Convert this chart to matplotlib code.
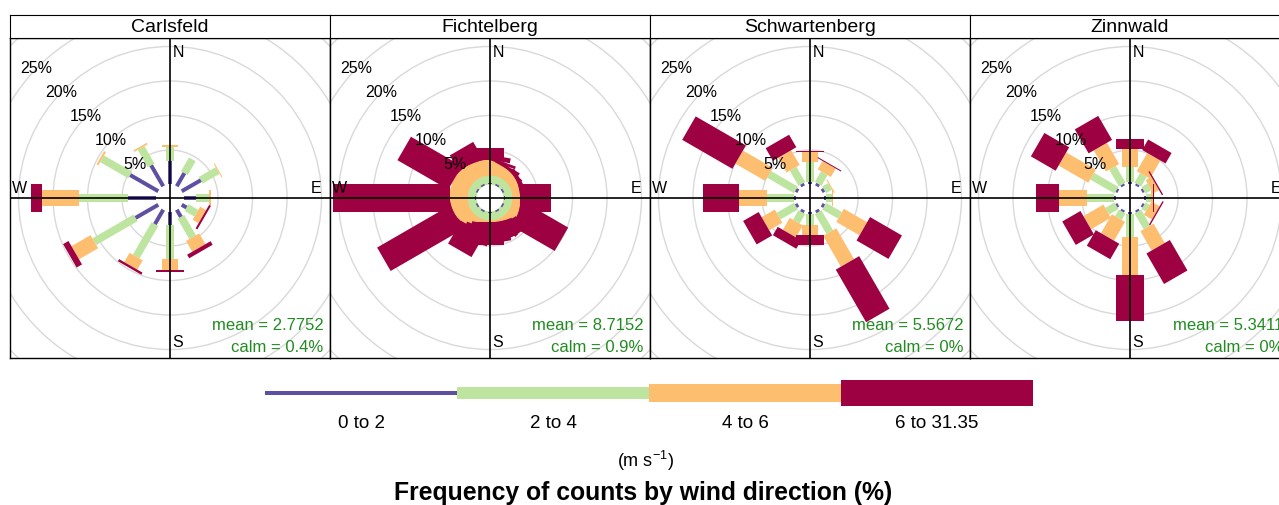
import numpy as np
import matplotlib.pyplot as plt
from matplotlib.patches import Polygon, Circle, Rectangle

plt.rcParams['font.family'] = ['Liberation Sans', 'DejaVu Sans']
plt.rcParams['mathtext.default'] = 'regular'

# ---- data (percent of counts per direction and speed class) ----
sites = ['Carlsfeld', 'Fichtelberg', 'Schwartenberg', 'Zinnwald']
wd = [0, 30, 60, 90, 120, 150, 180, 210, 240, 270, 300, 330]
wd_fine = list(range(0, 360, 10))   # Fichtelberg has 10 degree data
speed_labels = ['0 to 2', '2 to 4', '4 to 6', '6 to 31.35']
means = ['2.7752', '8.7152', '5.5672', '5.3411']
calms = ['0.4%', '0.9%', '0%', '0%']

carlsfeld_0_2 = [3.4, 2.2, 3.2, 1.8, 0.8, 1.2, 2.0, 2.4, 3.8, 4.1, 4.7, 3.5]
carlsfeld_2_4 = [2.1, 2.3, 2.8, 1.95, 1.65, 3.4, 4.84, 5.45, 6.9, 7.1, 4.7, 2.9]
carlsfeld_4_6 = [0.25, 0, 0.15, 0.3, 1.0, 1.8, 1.66, 1.55, 3.2, 5.4, 0.3, 0.25]
carlsfeld_6p = [0, 0, 0, 0, 0.3, 0.6, 0.25, 0.35, 0.9, 1.6, 0, 0]

fichtelberg_0_2 = [0.25, 0, 0] * 12
fichtelberg_2_4 = [1.05, 1.3, 1.3] * 12
fichtelberg_4_6 = [2.3, 2.2, 1.9, 1.6, 1.5, 1.4, 1.3, 1.2, 1.1, 1.1, 1.2, 1.3,
                   1.5, 1.5, 1.3, 0.9, 0.5, 0.3, 0.2, 0.5, 1.1, 1.7, 2.0, 2.2,
                   2.3, 2.4, 2.5, 2.5, 2.5, 2.6, 2.6, 2.6, 2.5, 2.4, 2.3, 2.3]
fichtelberg_6p = [1.7, 0.7, 0.4, 0.4, 0.2, 0.2, 0.6, 0.3, 0.5, 4.5, 1.0, 1.9,
                  7.2, 1.7, 1.7, 2.3, 2.6, 3.0, 3.4, 2.8, 2.4, 3.8, 1.7, 1.5,
                  12.2, 1.3, 0.7, 17.0, 0, 0, 8.5, 0.3, 0.7, 2.6, 1.2, 1.4]

schwartenberg_0_2 = [0.4] * 12
schwartenberg_2_4 = [2.86, 1.8, 1.0, 0.8, 2.67, 3.35, 1.6, 1.6, 2.9, 3.9, 4.5, 2.53]
schwartenberg_4_6 = [1.44, 1.4, 0.15, 0.2, 3.89, 5.15, 1.45, 2.0, 2.2, 4.0, 5.0, 2.47]
schwartenberg_6p = [0.15, 0.15, 0, 0, 5.34, 8.8, 1.45, 1.4, 2.6, 5.2, 8.4, 2.1]

zinnwald_0_2 = [0.3] * 12
zinnwald_2_4 = [2.2, 1.6, 1.0, 0.8, 0.7, 2.67, 3.4, 1.1, 1.56, 3.97, 4.07, 2.8]
zinnwald_4_6 = [2.7, 3.05, 0.95, 0.25, 1.35, 3.23, 5.55, 3.16, 3.34, 4.01, 4.98, 3.54]
zinnwald_6p = [1.35, 1.75, 0.2, 0.15, 0.2, 5.1, 6.55, 2.6, 3.05, 3.42, 4.15, 4.01]

site_dirs = [wd, wd_fine, wd, wd]
site_data = [
    [carlsfeld_0_2, carlsfeld_2_4, carlsfeld_4_6, carlsfeld_6p],
    [fichtelberg_0_2, fichtelberg_2_4, fichtelberg_4_6, fichtelberg_6p],
    [schwartenberg_0_2, schwartenberg_2_4, schwartenberg_4_6, schwartenberg_6p],
    [zinnwald_0_2, zinnwald_2_4, zinnwald_4_6, zinnwald_6p],
]

cols = ['#5E4FA2', '#BEE5A0', '#FDBE6F', '#9E0142']
half_w = [0.29, 0.56, 1.1, 1.96]   # bar half widths (data units)
leg_h = [3.3, 12, 17.3, 25.3]      # legend bar heights (px)
off = 1.96                         # hole in the middle
R = 23.19                          # half range of each panel
rings = [5, 10, 15, 20, 25, 30]
green_txt = '#228B22'

W, H = 1279, 505
fig = plt.figure(figsize=(W / 100, H / 100), dpi=100)


def bar(ax, d, r1, r2, w, col):
    t = np.radians(d)
    u = np.array([np.sin(t), np.cos(t)])
    p = np.array([np.cos(t), -np.sin(t)])
    pts = [r1 * u - w * p, r1 * u + w * p, r2 * u + w * p, r2 * u - w * p]
    ax.add_patch(Polygon(pts, closed=True, facecolor=col, edgecolor='none', zorder=3))


for i, site in enumerate(sites):
    x0 = 10 + 320 * i
    ax = fig.add_axes([x0 / W, (H - 358) / H, 320 / W, 320 / H])
    ax.set_xlim(-R, R)
    ax.set_ylim(-R, R)
    ax.set_xticks([])
    ax.set_yticks([])
    for s in ax.spines.values():
        s.set_linewidth(1.0)

    for r in rings:
        ax.add_patch(Circle((0, 0), off + r, fill=False, edgecolor='#d9d9d9', lw=1.0, zorder=1))

    dirs = site_dirs[i]
    vals = site_data[i]
    cum = np.zeros(len(dirs))
    starts = []
    for k in range(4):
        starts.append(cum.copy())
        cum = cum + np.array(vals[k])
    # slowest class last so the short inner dashes stay visible
    for k in [1, 2, 3, 0]:
        for j, d in enumerate(dirs):
            v = vals[k][j]
            if v > 0:
                bar(ax, d, off + starts[k][j], off + starts[k][j] + v, half_w[k], cols[k])

    ax.axhline(0, color='black', lw=1.2, zorder=5)
    ax.axvline(0, color='black', lw=1.2, zorder=5)

    for r in rings[:5]:
        rr = off + r
        ax.text(-rr * 0.719, rr * 0.695, '%d%%' % r, ha='center', va='center',
                fontsize=11.5, zorder=6)

    ax.text(0.35, 21.1, 'N', ha='left', va='center', fontsize=11.5, zorder=6)
    ax.text(0.35, -20.9, 'S', ha='left', va='center', fontsize=11.5, zorder=6)
    ax.text(22.0, 1.4, 'E', ha='right', va='center', fontsize=11.5, zorder=6)
    ax.text(-22.9, 1.4, 'W', ha='left', va='center', fontsize=11.5, zorder=6)

    ax.text(22.25, -18.45, 'mean = ' + means[i], ha='right', va='center',
            fontsize=12, color=green_txt, zorder=6)
    ax.text(22.25, -21.7, 'calm = ' + calms[i], ha='right', va='center',
            fontsize=12, color=green_txt, zorder=6)

    sx = fig.add_axes([x0 / W, (H - 38) / H, 320 / W, 23 / H])
    sx.set_xticks([])
    sx.set_yticks([])
    sx.text(0.5, 0.45, site, ha='center', va='center', fontsize=14, transform=sx.transAxes)

# ---- legend ----
lg = fig.add_axes([265 / W, (H - 407) / H, 768 / W, 28 / H])
lg.set_xlim(0, 4)
lg.set_ylim(-14, 14)
lg.axis('off')
for k in range(4):
    lg.add_patch(Rectangle((k, -leg_h[k] / 2), 1, leg_h[k], facecolor=cols[k], edgecolor='none'))
    fig.text((265 + 192 * k + 96) / W, 1 - 424 / H, speed_labels[k], ha='center', va='center', fontsize=13.5)

fig.text(645 / W, 1 - 461 / H, '(m s$^{-1}$)', ha='center', va='center', fontsize=13)
fig.text(643 / W, 1 - 493 / H, 'Frequency of counts by wind direction (%)', ha='center', va='center',
         fontsize=17.8, fontweight='bold')

fig.savefig('out.png', dpi=100)
